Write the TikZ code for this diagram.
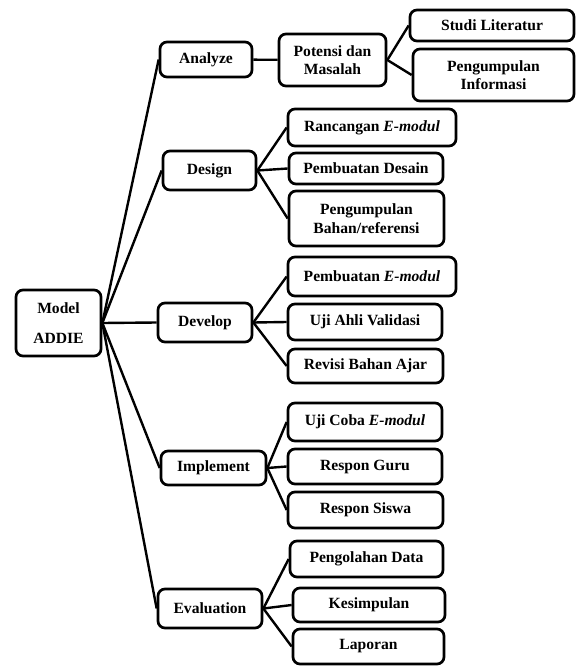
\documentclass[tikz,border=0pt]{standalone}
\usepackage{fontspec}
\setmainfont{Liberation Serif}
\usetikzlibrary{positioning}

\begin{document}
\begin{tikzpicture}[
  x=1pt,y=-1pt,
  font=\fontsize{15.6}{18.5}\selectfont\bfseries,
  box/.style={draw,line width=2.7pt,rounded corners=7pt,align=center,
              inner sep=1pt},
  link/.style={line width=2.4pt},
]
\useasboundingbox (0,0) rectangle (577,666);
% ---------- root ----------
\node[box,minimum width=85,minimum height=66] (root) at (58.5,323) {Model\\[11pt]ADDIE};
% ---------- phases ----------
\node[box,minimum width=92,minimum height=35] (ana) at (206,59.5) {Analyze};
\node[box,minimum width=93,minimum height=39] (des) at (209.5,170.5) {Design};
\node[box,minimum width=94,minimum height=39] (dev) at (205,322.5) {Develop};
\node[box,minimum width=105,minimum height=34] (imp) at (213.5,468) {Implement};
\node[box,minimum width=104,minimum height=39] (eva) at (210,608.5) {Evaluation};
% analyze branch
\node[box,minimum width=107,minimum height=52] (pot) at (332.5,60) {Potensi dan\\Masalah};
\node[box,minimum width=164,minimum height=31] (stu) at (492,25.5) {Studi Literatur};
\node[box,minimum width=161,minimum height=52] (inf) at (493.5,75) {Pengumpulan\\Informasi};
% design branch
\node[box,minimum width=168,minimum height=37] (ran) at (372,127.5) {Rancangan \textit{E-modul}};
\node[box,minimum width=154,minimum height=31] (pde) at (366,168.5) {Pembuatan Desain};
\node[box,minimum width=155,minimum height=55] (bah) at (366.5,218.5) {Pengumpulan\\Bahan/referensi};
% develop branch
\node[box,minimum width=168,minimum height=39] (pem) at (372,276.5) {Pembuatan \textit{E-modul}};
\node[box,minimum width=154,minimum height=36] (uji) at (365,322) {Uji Ahli Validasi};
\node[box,minimum width=155,minimum height=34] (rev) at (365.5,366) {Revisi Bahan Ajar};
% implement branch
\node[box,minimum width=154,minimum height=38] (ujc) at (365,422) {Uji Coba \textit{E-modul}};
\node[box,minimum width=154,minimum height=35] (rgu) at (365,466.5) {Respon Guru};
\node[box,minimum width=155,minimum height=36] (rsi) at (365.5,510) {Respon Siswa};
% evaluation branch
\node[box,minimum width=153,minimum height=36] (pen) at (366.5,559) {Pengolahan Data};
\node[box,minimum width=152,minimum height=34] (kes) at (369,605) {Kesimpulan};
\node[box,minimum width=151,minimum height=35] (lap) at (368.5,646.5) {Laporan};
% ---------- links ----------
\foreach \n in {ana,des,dev,imp,eva}{\draw[link] (root.east) -- (\n.west);}
\draw[link] (ana) -- (pot);
\foreach \n in {stu,inf}{\draw[link] (pot.east) -- (\n.west);}
\foreach \n in {ran,pde,bah}{\draw[link] (des.east) -- (\n.west);}
\foreach \n in {pem,uji,rev}{\draw[link] (dev.east) -- (\n.west);}
\foreach \n in {ujc,rgu,rsi}{\draw[link] (imp.east) -- (\n.west);}
\foreach \n in {pen,kes,lap}{\draw[link] (eva.east) -- (\n.west);}
\end{tikzpicture}
\end{document}
